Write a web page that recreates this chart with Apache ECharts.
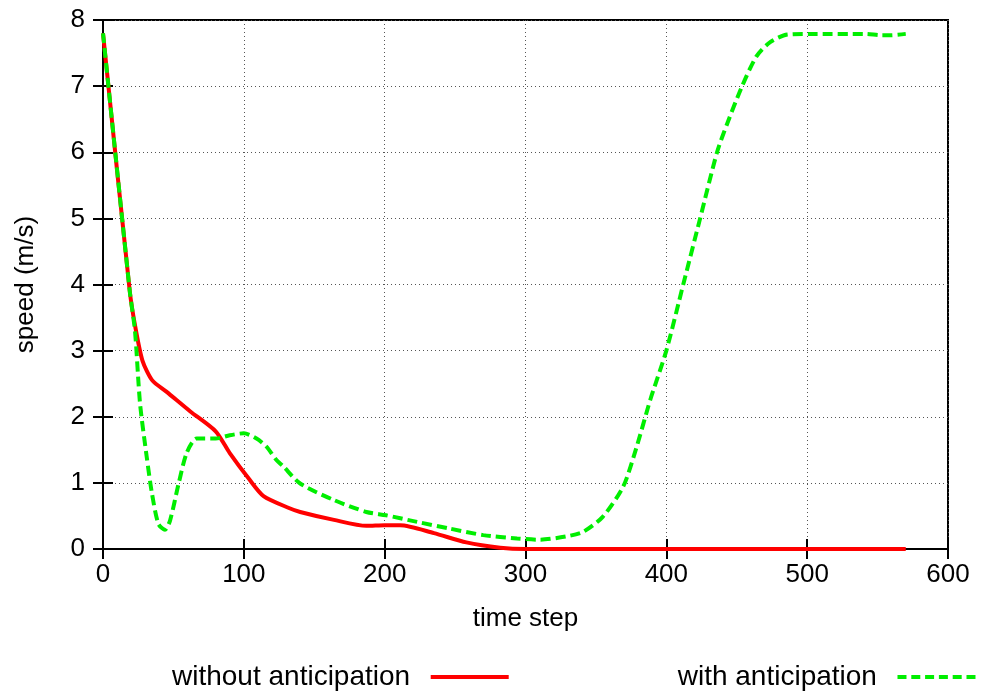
<!DOCTYPE html>
<html>
<head>
<meta charset="utf-8">
<script src="https://cdn.jsdelivr.net/npm/echarts@6/dist/echarts.min.js"></script>
<style>
    html, body { margin: 0; padding: 0; background: #fff; }
    #chart { width: 982px; height: 693px; }
</style>
</head>
<body>
<div id="chart"></div>
<script>
var xTicks = [0, 100, 200, 300, 400, 500, 600];
var yTicks = [0, 1, 2, 3, 4, 5, 6, 7, 8];

// without anticipation
var timeWithout = [0, 19, 23, 28, 35, 45, 62, 80, 90, 104, 114, 132, 140, 164, 187, 200, 211, 235, 258, 282, 300, 400, 500, 570];
var speedWithout = [7.8, 3.9, 3.35, 2.85, 2.55, 2.38, 2.08, 1.78, 1.45, 1.05, 0.8, 0.62, 0.56, 0.44, 0.35, 0.36, 0.36, 0.24, 0.1, 0.02, 0, 0, 0, 0];

// with anticipation
var timeWith = [0, 19, 22.7, 26.3, 31, 34.6, 39.3, 44, 47.6, 53.5, 59.4, 66.5, 80, 90, 100, 109, 116, 123, 128, 140, 164, 187, 201, 223, 246, 270, 294, 310, 329, 341, 355, 369.5, 379, 388.5, 400, 412, 424, 436, 443, 453.6, 464, 474, 486, 502, 542, 552, 559, 570];
var speedWith = [7.8, 3.9, 3.3, 2.2, 1.4, 0.86, 0.38, 0.29, 0.43, 0.97, 1.45, 1.67, 1.67, 1.72, 1.75, 1.67, 1.55, 1.35, 1.25, 0.99, 0.74, 0.56, 0.51, 0.41, 0.31, 0.21, 0.16, 0.14, 0.19, 0.26, 0.49, 0.95, 1.55, 2.25, 3.0, 4.0, 5.0, 6.0, 6.42, 6.99, 7.45, 7.67, 7.78, 7.79, 7.79, 7.77, 7.77, 7.79];

function pairs(xs, ys) {
    return xs.map(function (x, i) {
        return [x, ys[i]];
    });
}

var font = 'Liberation Sans, Arial, sans-serif';
var chart = echarts.init(document.getElementById('chart'));

var tickStyle = {show: true, inside: true, length: 10, lineStyle: {color: '#000', width: 2}};
var gridStyle = {show: true, lineStyle: {color: '#555', width: 1, type: [1, 3]}};

// 图例图标：实线 / 虚线
var solidIcon = 'path://M0,0h78v4h-78z';
var dashIcon = 'path://M0,0h9v4h-9z M13.8,0h9v4h-9z M27.6,0h9v4h-9z M41.4,0h9v4h-9z M55.2,0h9v4h-9z M69,0h9v4h-9z';

chart.setOption({
    animation: false,
    backgroundColor: '#fff',
    textStyle: {fontFamily: font, color: '#000'},
    grid: {
        left: 103, right: 34, top: 20, bottom: 144,
        show: true, borderColor: '#000', borderWidth: 2
    },
    legend: {
        top: 658,
        left: 167,
        align: 'right',
        itemWidth: 78,
        itemHeight: 4,
        itemGap: 169,
        formatter: function (name) {
            return name + '  ';
        },
        textStyle: {fontFamily: font, fontSize: 28, color: '#000'},
        data: [
            {name: 'without anticipation', icon: solidIcon, itemStyle: {color: '#ff0000'}},
            {name: 'with anticipation', icon: dashIcon, itemStyle: {color: '#00ee00'}}
        ]
    },
    xAxis: [{
        type: 'value',
        min: xTicks[0],
        max: xTicks[xTicks.length - 1],
        interval: 100,
        name: 'time step',
        nameLocation: 'middle',
        nameGap: 57,
        nameTextStyle: {fontSize: 26, color: '#000'},
        axisLine: {show: true, lineStyle: {color: '#000', width: 2}},
        axisTick: tickStyle,
        axisLabel: {fontSize: 26, color: '#000', margin: 13},
        splitLine: gridStyle
    }, {
        type: 'value',
        position: 'top',
        min: xTicks[0],
        max: xTicks[xTicks.length - 1],
        interval: 100,
        axisLine: {show: false},
        axisTick: tickStyle,
        axisLabel: {show: false},
        splitLine: {show: false}
    }],
    yAxis: [{
        type: 'value',
        min: yTicks[0],
        max: yTicks[yTicks.length - 1],
        interval: 1,
        name: 'speed (m/s)',
        nameLocation: 'middle',
        nameRotate: 90,
        nameGap: 64,
        nameTextStyle: {fontSize: 26, color: '#000'},
        axisLine: {show: true, lineStyle: {color: '#000', width: 2}},
        axisTick: tickStyle,
        axisLabel: {fontSize: 26, color: '#000', margin: 18},
        splitLine: gridStyle
    }, {
        type: 'value',
        position: 'right',
        min: yTicks[0],
        max: yTicks[yTicks.length - 1],
        interval: 1,
        axisLine: {show: false},
        axisTick: tickStyle,
        axisLabel: {show: false},
        splitLine: {show: false}
    }],
    series: [{
        name: 'without anticipation',
        type: 'line',
        smooth: 0.25,
        symbol: 'none',
        data: pairs(timeWithout, speedWithout),
        lineStyle: {color: '#ff0000', width: 4},
        itemStyle: {color: '#ff0000'},
        z: 3
    }, {
        name: 'with anticipation',
        type: 'line',
        smooth: 0.25,
        symbol: 'none',
        data: pairs(timeWith, speedWith),
        lineStyle: {color: '#00ee00', width: 4, type: [10, 5]},
        itemStyle: {color: '#00ee00'},
        z: 4
    }]
});
</script>
</body>
</html>
